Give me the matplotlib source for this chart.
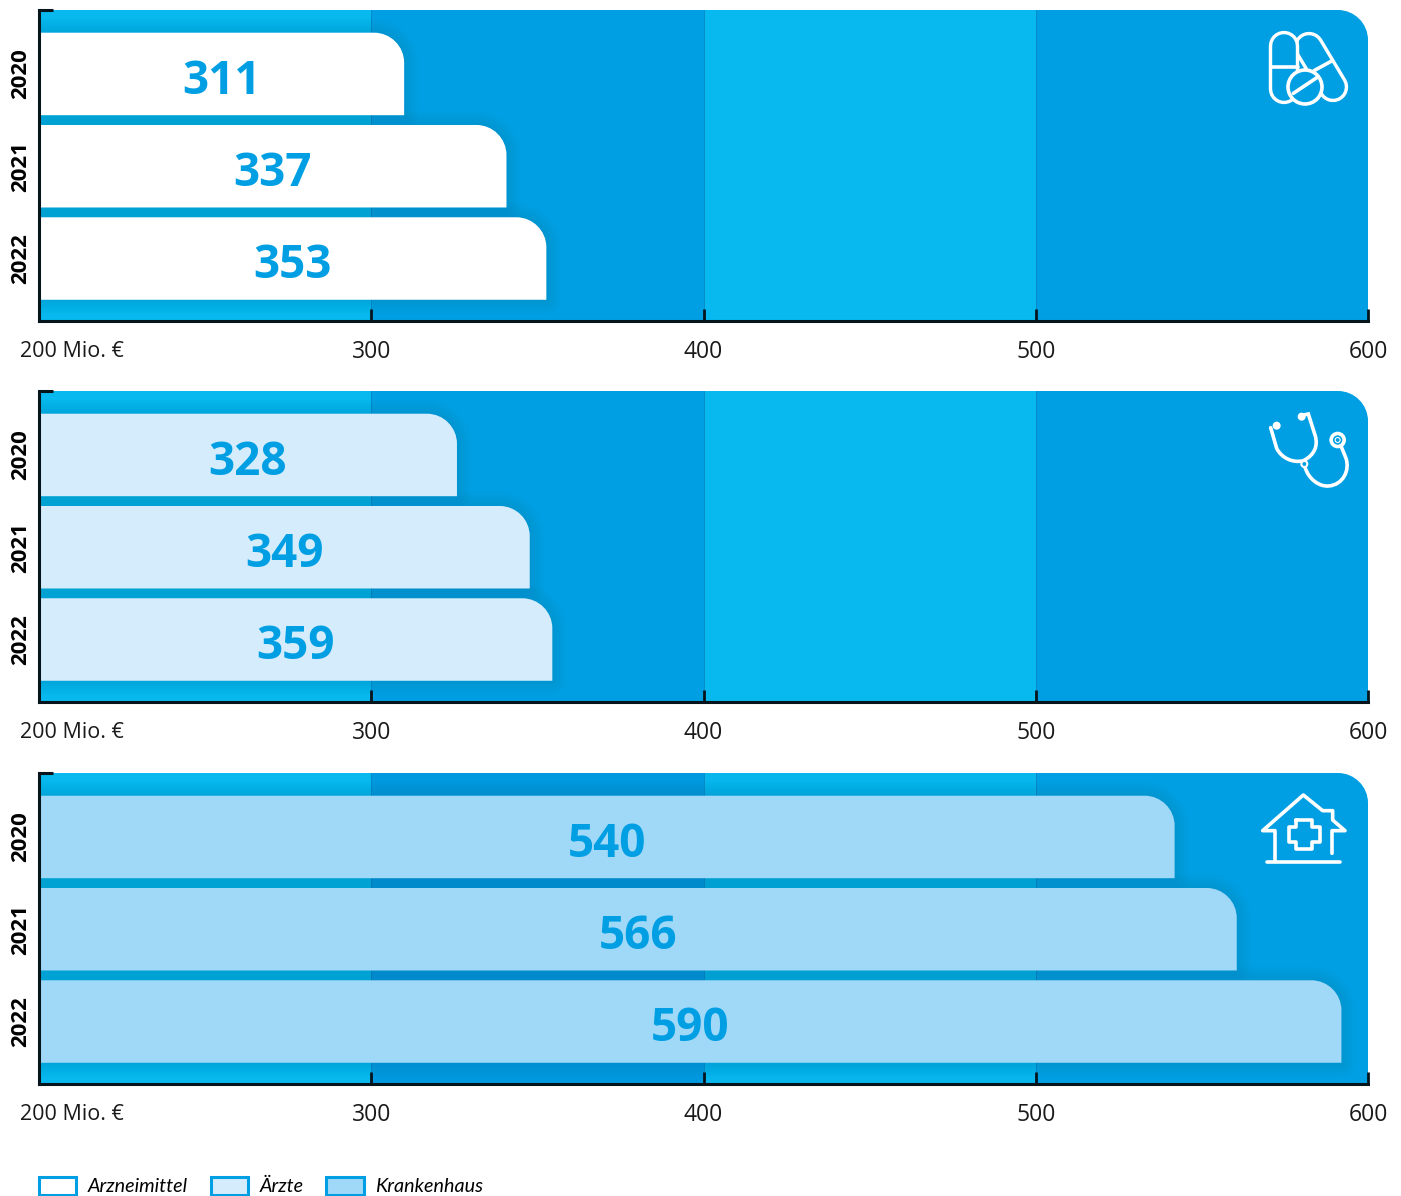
import numpy as np
import matplotlib
matplotlib.use("Agg")
import matplotlib.pyplot as plt
from matplotlib.path import Path
from matplotlib.patches import PathPatch, Patch, Circle

plt.rcParams['font.family'] = ['Open Sans', 'DejaVu Sans']

W, H = 1401, 1196

years = ['2020', '2021', '2022']
# printed figures
labels_arznei = [311, 337, 353]
labels_aerzte = [328, 349, 359]
labels_kh = [540, 566, 590]
# where the bars really end in the picture, they do not follow the figures exactly
ends_arznei = [309.9, 340.7, 352.7]
ends_aerzte = [325.8, 347.7, 354.5]
ends_kh = [541.8, 560.5, 592.0]

tick_vals = [200, 300, 400, 500, 600]
tick_labels = ['', '300', '400', '500', '600']
legend_names = ['Arzneimittel', 'Ärzte', 'Krankenhaus']

BLUE = '#009fe3'
LIGHT = '#07b9ee'
bar_colors = ['#ffffff', '#d4ecfb', '#a0d8f8']

# band colours per panel, top strip of the last panel is different
bands = [LIGHT, BLUE, LIGHT, BLUE]
bands_kh = [LIGHT, '#0098df', '#06b6ec', BLUE]

panel_tops = [10, 391, 773]
panel_h = 311
left, right = 39, 1368
px_x = (right - left) / 400
px_y = 92.3
y_lo, y_hi = 2.677, -0.693


def round_path(x0, x1, y0, y1, rx, ry):
    # rectangle with only the top right corner rounded, y axis is inverted
    k = 0.45
    verts = [(x0, y0), (x0, y1), (x1 - rx, y1),
             (x1 - rx * k, y1), (x1, y1 + ry * k), (x1, y1 + ry),
             (x1, y0), (x0, y0), (x0, y0)]
    codes = [Path.MOVETO, Path.LINETO, Path.LINETO,
             Path.CURVE4, Path.CURVE4, Path.CURVE4,
             Path.LINETO, Path.LINETO, Path.CLOSEPOLY]
    return Path(verts, codes)


def draw_panel(top, labels, ends, color, band_cols):
    ax = fig.add_axes([left / W, 1 - (top + panel_h) / H, (right - left) / W, panel_h / H])
    ax.set_xlim(200, 600)
    ax.set_ylim(y_lo, y_hi)
    ax.patch.set_visible(False)

    clip = PathPatch(round_path(200, 600, y_lo, y_hi, 30 / px_x, 30 / px_y),
                     transform=ax.transData, fc='none', ec='none')
    ax.add_patch(clip)
    for i, c in enumerate(band_cols):
        sp = ax.axvspan(tick_vals[i], tick_vals[i + 1], color=c, lw=0, zorder=1)
        sp.set_clip_path(clip)
    for v in tick_vals[1:-1]:
        ln = ax.axvline(v, color='#0586c4', lw=0.6, zorder=1.2)
        ln.set_clip_path(clip)

    for i, (lab, end) in enumerate(zip(labels, ends)):
        p = round_path(200, end, i + 0.447, i - 0.447, 30 / px_x, 30 / px_y)
        # soft shadow: wider and wider strokes of low alpha
        for w in range(2, 30, 3):
            s = PathPatch(p, fc='none', ec='#00507f', lw=w * 0.72, alpha=0.012,
                          zorder=2, joinstyle='round')
            ax.add_patch(s)
            s.set_clip_path(clip)
        ax.add_patch(PathPatch(p, fc=color, ec='none', zorder=3))
        ax.text((200 + end) / 2, i + 0.08, str(lab), color=BLUE, fontsize=33,
                fontweight='bold', ha='center', va='center', zorder=4)

    for s in ['top', 'right']:
        ax.spines[s].set_visible(False)
    for s in ['left', 'bottom']:
        ax.spines[s].set_linewidth(2.2)
        ax.spines[s].set_color('#06141c')
        ax.spines[s].set_zorder(5)

    ax.set_xticks(tick_vals)
    ax.set_xticklabels(tick_labels)
    ax.tick_params(axis='x', direction='in', length=9, width=2, color='#06141c',
                   pad=14, labelsize=16.5, labelcolor='#1a1a1a')
    ax.xaxis.get_major_ticks()[0].tick1line.set_visible(False)
    ax.set_yticks(range(3))
    ax.set_yticklabels(years, rotation=90, va='center', fontweight='bold', fontsize=16)
    ax.tick_params(axis='y', length=0, pad=5.5)
    ax.plot([200, 204.2], [y_hi, y_hi], color='#06141c', lw=2.2, clip_on=False,
            zorder=6, solid_capstyle='butt')
    ax.annotate('200 Mio. €', xy=(200, 0), xycoords=('data', 'axes fraction'),
                xytext=(-13.8, -14.5), textcoords='offset points', ha='left', va='top',
                fontsize=15.5, color='#1a1a1a', annotation_clip=False)
    return ax


fig = plt.figure(figsize=(W / 100, H / 100), dpi=100)
draw_panel(panel_tops[0], labels_arznei, ends_arznei, bar_colors[0], bands)
draw_panel(panel_tops[1], labels_aerzte, ends_aerzte, bar_colors[1], bands)
draw_panel(panel_tops[2], labels_kh, ends_kh, bar_colors[2], bands_kh)

# overlay in image pixels for the little icons
ov = fig.add_axes([0, 0, 1, 1], zorder=10)
ov.set_xlim(0, W)
ov.set_ylim(H, 0)
ov.axis('off')
LW = 2.6


def z(ox, oy, pts):
    return [(ox + a / 3, oy + b / 3) for a, b in pts]


def capsule(p0, p1, r):
    xs, ys = zip(*[p0, p1])
    ov.plot(xs, ys, color='white', lw=(2 * r + 3.4) * 0.72, solid_capstyle='round')
    ov.plot(xs, ys, color=BLUE, lw=(2 * r - 3.4) * 0.72, solid_capstyle='round')


def line(pts, **kw):
    xs, ys = zip(*pts)
    ov.plot(xs, ys, color='white', lw=LW, solid_capstyle='round', solid_joinstyle='round', **kw)


# pills
ox, oy = 1240, 0
capsule((1309, 47), (1333, 87), 13.5)
line(z(ox, oy, [(222, 212), (275, 183)]))
capsule((1284, 46), (1284, 89), 13.5)
line(z(ox, oy, [(95, 200), (175, 200)]))
ov.add_patch(Circle((1305, 87), 17, fc=BLUE, ec='white', lw=LW, zorder=5))
line(z(ox, oy, [(160, 280), (232, 232)]), zorder=6)

# stethoscope
ox, oy = 1240, 390
st1 = z(ox, oy, [(92, 113), (110, 175), (125, 205), (160, 220), (190, 212),
                 (225, 195), (235, 165), (225, 135), (205, 72), (190, 75)])
c1 = [Path.MOVETO, Path.LINETO, Path.CURVE4, Path.CURVE4, Path.CURVE4,
      Path.CURVE4, Path.CURVE4, Path.CURVE4, Path.LINETO, Path.LINETO]
ov.add_patch(PathPatch(Path(st1, c1), fc='none', ec='white', lw=LW, capstyle='round'))
st2 = z(ox, oy, [(194, 228), (205, 270), (240, 290), (265, 288),
                 (310, 285), (330, 240), (318, 205), (303, 168)])
c2 = [Path.MOVETO, Path.CURVE4, Path.CURVE4, Path.CURVE4,
      Path.CURVE4, Path.CURVE4, Path.CURVE4, Path.LINETO]
ov.add_patch(PathPatch(Path(st2, c2), fc='none', ec='white', lw=LW, capstyle='round'))
ov.add_patch(Circle(z(ox, oy, [(110, 107)])[0], 4, fc='white', ec='none', zorder=5))
ov.add_patch(Circle(z(ox, oy, [(185, 80)])[0], 4, fc='white', ec='none', zorder=5))
ov.add_patch(Circle(z(ox, oy, [(193, 222)])[0], 3, fc=BLUE, ec='white', lw=1.5, zorder=5))
ov.add_patch(Circle(z(ox, oy, [(293, 150)])[0], 6.5, fc=BLUE, ec='white', lw=LW, zorder=5))
ov.add_patch(Circle(z(ox, oy, [(293, 150)])[0], 2.5, fc=BLUE, ec='white', lw=0.8, zorder=6))

# house
ox, oy = 1240, 770
line(z(ox, oy, [(105, 272), (105, 182), (68, 182), (190, 75), (248, 122), (278, 122),
                (278, 150), (315, 182), (276, 182), (276, 250)]))
line(z(ox, oy, [(82, 275), (300, 275)]))
line(z(ox, oy, [(168, 150), (216, 150), (216, 172), (241, 172), (241, 216), (216, 216),
                (216, 238), (168, 238), (168, 216), (146, 216), (146, 172), (168, 172), (168, 150)]))

handles = [Patch(fc=c, ec=BLUE, lw=2.2) for c in bar_colors]
leg = fig.legend(handles, legend_names, loc='lower left', bbox_to_anchor=(39 / W, 0.5 / H), ncol=3,
                 frameon=False, handlelength=1.88, handleheight=1.0,
                 handletextpad=0.6, columnspacing=1.15, borderaxespad=0, borderpad=0,
                 prop={'family': 'Lato', 'style': 'italic', 'size': 14.2})

fig.savefig('out.png', dpi=100)
